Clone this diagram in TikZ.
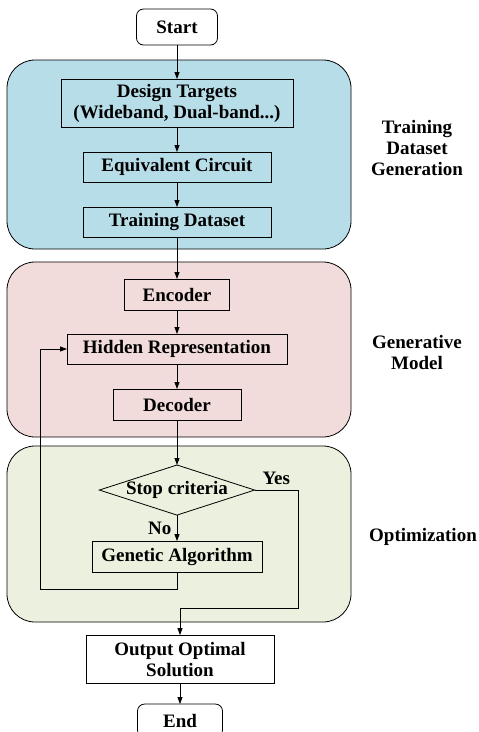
\documentclass[tikz,border=0pt]{standalone}
\usepackage{fontspec}
\setmainfont{Liberation Serif}
\usetikzlibrary{positioning, arrows.meta, shapes.geometric}
\usepackage{xcolor}

\definecolor{datablue}{HTML}{B7DDE8}
\definecolor{modelpink}{HTML}{F2DCDB}
\definecolor{optgreen}{HTML}{EBF1DE}

\begin{document}
\begin{tikzpicture}[
    x=1pt, y=-1pt, line width=0.8pt,
    font=\fontsize{19}{21}\selectfont\bfseries,
    box/.style={draw, rectangle, inner sep=0pt, outer sep=0pt, align=center, minimum height=30pt},
    terminal/.style={box, rounded corners=7pt, fill=white},
    decision/.style={draw, diamond, aspect=3.1, inner sep=0pt, outer sep=0pt, minimum width=150pt, minimum height=48pt},
    region/.style={draw, rounded corners=28pt},
    stage/.style={align=center},
    flow/.style={-{Triangle[length=7pt, width=5pt]}}
]
    \useasboundingbox (0,0) rectangle (479,732);

    % Stage backgrounds
    \draw[region, fill=datablue] (7,60) rectangle (351,249);
    \draw[region, fill=modelpink] (7,262) rectangle (351,437);
    \draw[region, fill=optgreen] (7,446) rectangle (351,622);

    % Dataset generation
    \node[terminal, minimum width=81pt, minimum height=36pt] (start) at (177,27) {Start};
    \node[box, minimum width=232pt, minimum height=48pt] (targets) [below=34pt of start] {Design Targets\\(Wideband, Dual-band...)};
    \node[box, minimum width=188pt] (circuit) [below=25pt of targets] {Equivalent Circuit};
    \node[box, minimum width=188pt] (dataset) [below=25pt of circuit] {Training Dataset};

    % Generative model
    \node[box, minimum width=105pt, minimum height=31pt] (encoder) [below=42pt of dataset] {Encoder};
    \node[box, minimum width=220pt] (hidden) [below=24pt of encoder] {Hidden Representation};
    \node[box, minimum width=128pt, minimum height=31pt] (decoder) [below=25pt of hidden] {Decoder};

    % Optimization loop
    \node[decision] (stop) [below=45pt of decoder] {Stop criteria};
    \node[box, minimum width=170pt, minimum height=31pt] (genetic) [below=26pt of stop] {Genetic Algorithm};
    \node[box, minimum width=188pt, minimum height=48pt] (output) [below=63pt of genetic, xshift=3pt] {Output Optimal\\Solution};
    \node[terminal, minimum width=85pt, minimum height=33pt] (end) [below=21pt of output] {End};

    \coordinate (loop-turn) at (40,589);
    \coordinate (yes-turn) at (298,608);

    % Stage labels
    \node[stage] (data-label) at (417,148) {Training\\Dataset\\Generation};
    \node[stage] (model-label) at (417,352) {Generative\\Model};
    \node[stage] (opt-label) at (423,537) {Optimization};

    % Connectors
    \draw[flow] (start) -- (targets);
    \draw[flow] (targets) -- (circuit);
    \draw[flow] (circuit) -- (dataset);
    \draw[flow] (dataset) -- (encoder);
    \draw[flow] (encoder) -- (hidden);
    \draw[flow] (hidden) -- (decoder);
    \draw[flow] (decoder) -- (stop);
    \draw[flow] (stop) -- node[left, xshift=-2pt] {No} (genetic);
    \draw[flow] (genetic.south) |- (loop-turn) |- (hidden.west);
    \draw[flow] (stop.east) -| node[pos=0.25, above, yshift=2pt] {Yes} (yes-turn) -| (output.north);
    \draw[flow] (output) -- (end);

\end{tikzpicture}
\end{document}
